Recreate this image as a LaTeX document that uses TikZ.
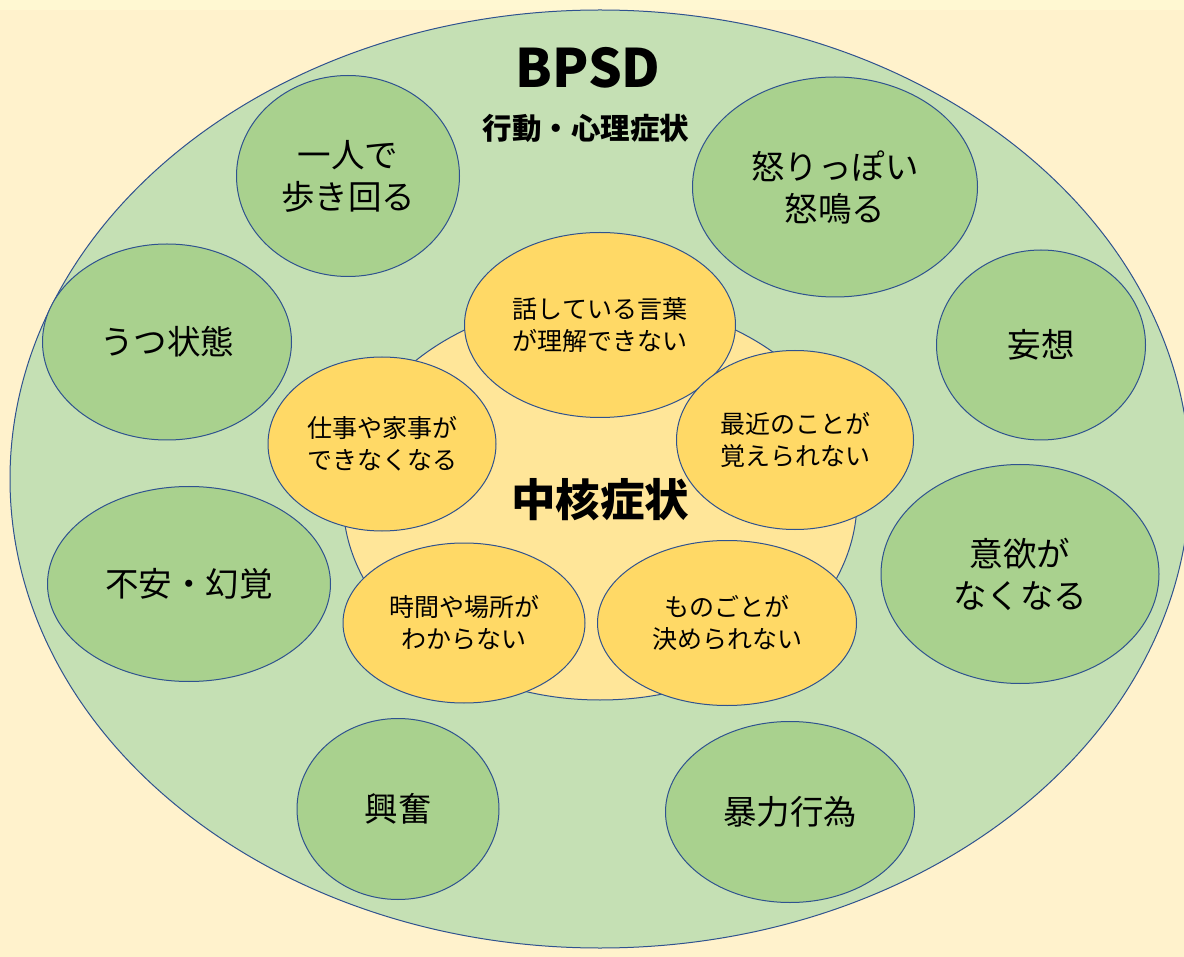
\documentclass[tikz,border=0pt]{standalone}
\usepackage{fontspec}
\setmainfont{Noto Sans CJK JP}
\usetikzlibrary{shapes.geometric}
\definecolor{bg}{HTML}{FFF2CC}
\definecolor{bgtop}{HTML}{FFF8D2}
\definecolor{outerfill}{HTML}{C5E0B4}
\definecolor{greenfill}{HTML}{A9D18E}
\definecolor{corefill}{HTML}{FFE699}
\definecolor{smallfill}{HTML}{FFD966}
\definecolor{edgeblue}{HTML}{2F528F}
\tikzset{
  baseell/.style={ellipse, draw=edgeblue, line width=1pt, inner sep=0pt, align=center, text=black},
  outerell/.style={baseell, fill=outerfill},
  greenell/.style={baseell, fill=greenfill, font=\fontsize{33.5}{42}\selectfont},
  coreell/.style={baseell, fill=corefill, font=\bfseries\fontsize{44.5}{50}\selectfont},
  smallell/.style={baseell, fill=smallfill, font=\fontsize{25}{32}\selectfont},
  titletext/.style={inner sep=0pt, text=black, font=\bfseries\fontsize{53}{60}\selectfont},
  subtext/.style={inner sep=0pt, text=black, font=\bfseries\fontsize{29.5}{32}\selectfont}
}
\begin{document}
\begin{tikzpicture}[x=1pt,y=-1pt]
\useasboundingbox (0,0) rectangle (1184,957);
\clip (0,0) rectangle (1184,957);
\fill[bg] (0,0) rectangle (1184,957);
\fill[bgtop] (0,0) rectangle (1184,10);
% outer BPSD ellipse
\node[outerell, minimum width=1180pt, minimum height=938pt] (bpsd) at (600,479) {};
\node[titletext] (title) at (588,68) {BPSD};
\node[subtext] (subtitle) at (586,128) {行動・心理症状};
% green symptom ellipses
\node[greenell, minimum width=223pt, minimum height=201pt] (walk) at (348,176) {一人で\\歩き回る};
\node[greenell, minimum width=285pt, minimum height=220pt] (angry) at (835,187) {怒りっぽい\\怒鳴る};
\node[greenell, minimum width=249pt, minimum height=196pt] (depr) at (167,342) {うつ状態};
\node[greenell, minimum width=209pt, minimum height=190pt] (delu) at (1041,345) {妄想};
\node[greenell, minimum width=283pt, minimum height=195pt] (anx) at (189,584) {不安・幻覚};
\node[greenell, minimum width=278pt, minimum height=219pt] (apathy) at (1020,574) {意欲が\\なくなる};
\node[greenell, minimum width=202pt, minimum height=181pt] (excite) at (398,809) {興奮};
\node[greenell, minimum width=249pt, minimum height=181pt] (violence) at (790,812) {暴力行為};
% core symptoms
\node[coreell, minimum width=514pt, minimum height=400pt] (core) at (600,500) {中核症状};
\node[smallell, minimum width=271pt, minimum height=185pt] (speech) at (600,325) {話している言葉\\が理解できない};
\node[smallell, minimum width=228pt, minimum height=174pt] (work) at (382,444) {仕事や家事が\\できなくなる};
\node[smallell, minimum width=237pt, minimum height=179pt] (memory) at (795,440) {最近のことが\\覚えられない};
\node[smallell, minimum width=242pt, minimum height=160pt] (orient) at (464,623) {時間や場所が\\わからない};
\node[smallell, minimum width=259pt, minimum height=165pt] (decide) at (727,623) {ものごとが\\決められない};
\end{tikzpicture}
\end{document}
